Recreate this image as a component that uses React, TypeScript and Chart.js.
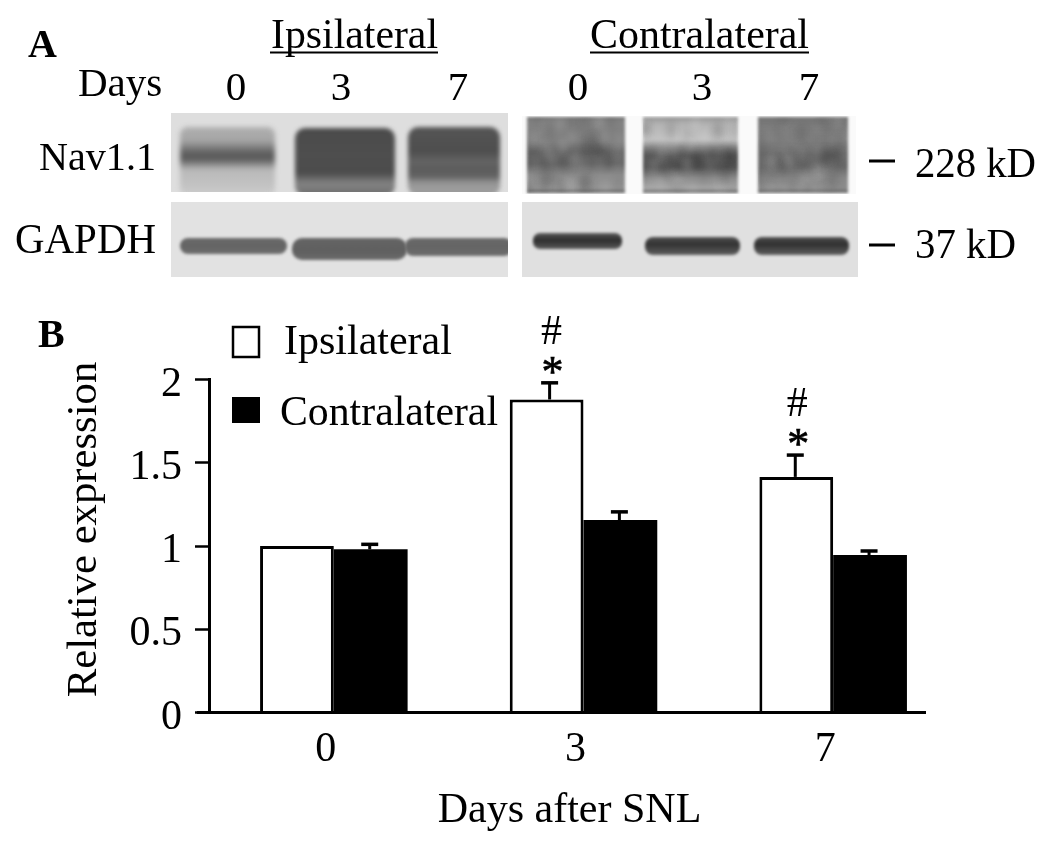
import React, { useEffect, useRef } from "react";
import { Chart, registerables } from "chart.js";

Chart.register(...registerables);

const days = ["0", "3", "7"];
const seriesNames = ["Ipsilateral", "Contralateral"];
const ipsilateral = [1.0, 1.88, 1.415];
const contralateral = [0.98, 1.156, 0.946];
const ipsilateralErrorTop = [1.0, 1.98, 1.546];
const contralateralErrorTop = [1.01, 1.205, 0.97];
const significanceMarks = [false, true, true];
const yTicks = [0, 0.5, 1, 1.5, 2];

const SERIF = '"Liberation Serif", "Times New Roman", serif';

type Lane = { x0: number; x1: number; y0: number; y1: number; blur: number; r: number; stops: [number, string][]; mottled?: boolean };

const g = (v: number) => `rgb(${v},${v},${v})`;
const st = (...p: number[]): [number, string][] => {
  const out: [number, string][] = [];
  for (let i = 0; i < p.length; i += 2) out.push([p[i], g(p[i + 1])]);
  return out;
};

const blotPanels: { x: number; y: number; w: number; h: number; bg: number; lanes: Lane[] }[] = [
  {
    x: 171, y: 113, w: 337, h: 79, bg: 222,
    lanes: [
      { x0: 180, x1: 275, y0: 127, y1: 196, blur: 2.5, r: 8, stops: st(0, 175, 0.2, 165, 0.3, 125, 0.38, 95, 0.46, 90, 0.56, 150, 0.62, 185, 0.85, 195, 1, 205) },
      { x0: 295, x1: 395, y0: 128, y1: 196, blur: 2, r: 10, stops: st(0, 75, 0.4, 78, 0.66, 76, 0.74, 105, 0.82, 130, 0.92, 120, 1, 100) },
      { x0: 408, x1: 500, y0: 127, y1: 196, blur: 2, r: 10, stops: st(0, 85, 0.35, 78, 0.5, 100, 0.62, 92, 0.72, 100, 0.8, 145, 0.92, 160, 1, 140) },
    ],
  },
  {
    x: 522, y: 116, w: 334, h: 78, bg: 250,
    lanes: [
      { x0: 527, x1: 625, y0: 117, y1: 193, blur: 1.5, r: 0, mottled: true, stops: st(0, 115, 0.06, 130, 0.32, 128, 0.46, 100, 0.62, 100, 0.76, 140, 0.94, 150, 1, 95) },
      { x0: 643, x1: 738, y0: 117, y1: 193, blur: 1.5, r: 0, mottled: true, stops: st(0, 150, 0.1, 180, 0.3, 195, 0.42, 120, 0.5, 88, 0.66, 85, 0.8, 140, 0.94, 165, 1, 95) },
      { x0: 758, x1: 848, y0: 117, y1: 193, blur: 1.5, r: 0, mottled: true, stops: st(0, 115, 0.3, 130, 0.48, 105, 0.66, 105, 0.8, 135, 0.94, 140, 1, 95) },
    ],
  },
  {
    x: 171, y: 202, w: 337, h: 75, bg: 226,
    lanes: [
      { x0: 180, x1: 287, y0: 238, y1: 254, blur: 1.6, r: 8, stops: st(0, 105, 0.5, 100, 1, 110) },
      { x0: 292, x1: 407, y0: 238, y1: 260, blur: 1.6, r: 10, stops: st(0, 100, 0.6, 95, 1, 108) },
      { x0: 405, x1: 512, y0: 238, y1: 256, blur: 1.6, r: 8, stops: st(0, 105, 0.5, 100, 1, 110) },
    ],
  },
  {
    x: 522, y: 202, w: 336, h: 75, bg: 224,
    lanes: [
      { x0: 533, x1: 622, y0: 233, y1: 249, blur: 1.8, r: 7, stops: st(0, 90, 0.45, 45, 1, 90) },
      { x0: 645, x1: 740, y0: 237, y1: 255, blur: 1.8, r: 8, stops: st(0, 80, 0.4, 50, 1, 95) },
      { x0: 754, x1: 849, y0: 237, y1: 255, blur: 1.8, r: 8, stops: st(0, 80, 0.4, 48, 1, 95) },
    ],
  },
];

function text(
  ctx: CanvasRenderingContext2D,
  s: string,
  x: number,
  y: number,
  size = 42,
  opts: { align?: CanvasTextAlign; maxWidth?: number; bold?: boolean; stroke?: number } = {}
) {
  ctx.font = `${opts.bold ? "bold " : ""}${size}px ${SERIF}`;
  ctx.fillStyle = "#000";
  ctx.textAlign = opts.align ?? "left";
  ctx.textBaseline = "alphabetic";
  if (opts.maxWidth) ctx.fillText(s, x, y, opts.maxWidth);
  else ctx.fillText(s, x, y);
  if (opts.stroke) {
    ctx.strokeStyle = "#000";
    ctx.lineWidth = opts.stroke;
    ctx.strokeText(s, x, y);
  }
}

function line(ctx: CanvasRenderingContext2D, x0: number, y0: number, x1: number, y1: number, w: number) {
  ctx.strokeStyle = "#000";
  ctx.lineWidth = w;
  ctx.beginPath();
  ctx.moveTo(x0, y0);
  ctx.lineTo(x1, y1);
  ctx.stroke();
}

function mottle(ctx: CanvasRenderingContext2D, l: Lane) {
  // Fixed film-grain pattern from a deterministic hash
  const hash = (n: number) => {
    const v = Math.sin(n * 127.1) * 43758.5453;
    return v - Math.floor(v);
  };
  ctx.filter = "blur(3.5px)";
  for (let i = 0; i < 70; i++) {
    const x = l.x0 + hash(i + l.x0) * (l.x1 - l.x0);
    const y = l.y0 + hash(i * 2.3 + l.x0) * (l.y1 - l.y0);
    const dark = hash(i * 3.7 + l.x0) > 0.5;
    ctx.fillStyle = dark ? "rgba(0,0,0,0.07)" : "rgba(255,255,255,0.08)";
    ctx.fillRect(x - 4, y - 7, 8, 14);
  }
  ctx.filter = "none";
}

const figurePlugin = {
  id: "figure",
  beforeDraw(chart: any) {
    const ctx: CanvasRenderingContext2D = chart.ctx;
    ctx.save();
    ctx.fillStyle = "#fff";
    ctx.fillRect(0, 0, chart.width, chart.height);
    for (const p of blotPanels) {
      ctx.save();
      ctx.beginPath();
      ctx.rect(p.x, p.y, p.w, p.h);
      ctx.clip();
      ctx.fillStyle = g(p.bg);
      ctx.fillRect(p.x, p.y, p.w, p.h);
      for (const l of p.lanes) {
        const gr = ctx.createLinearGradient(0, l.y0, 0, l.y1);
        l.stops.forEach(([o, c]) => gr.addColorStop(o, c));
        ctx.filter = `blur(${l.blur}px)`;
        ctx.fillStyle = gr;
        ctx.beginPath();
        ctx.roundRect(l.x0, l.y0, l.x1 - l.x0, l.y1 - l.y0, l.r);
        ctx.fill();
        ctx.filter = "none";
        if (l.mottled) {
          ctx.save();
          ctx.beginPath();
          ctx.rect(l.x0, l.y0, l.x1 - l.x0, l.y1 - l.y0);
          ctx.clip();
          mottle(ctx, l);
          ctx.restore();
        }
      }
      ctx.restore();
    }
    // Panel A text
    text(ctx, "A", 28, 57, 40, { bold: true });
    text(ctx, seriesNames[0], 271, 48, 42, { maxWidth: 167 });
    line(ctx, 270, 52.5, 438, 52.5, 2);
    text(ctx, seriesNames[1], 590, 48, 42, { maxWidth: 219 });
    line(ctx, 590, 52.5, 809, 52.5, 2);
    text(ctx, "Days", 78, 96, 41);
    [236, 341, 458, 578, 702, 809].forEach((x, i) => text(ctx, days[i % 3], x, 100, 41, { align: "center" }));
    text(ctx, "Nav1.1", 39, 170, 41, { maxWidth: 117 });
    text(ctx, "GAPDH", 15, 253, 42, { maxWidth: 141 });
    line(ctx, 869, 161, 895, 161, 3);
    line(ctx, 869, 245, 895, 245, 3);
    text(ctx, "228 kD", 915, 177, 42, { maxWidth: 121 });
    text(ctx, "37 kD", 915, 258, 42, { maxWidth: 101 });
    // Panel B labels
    text(ctx, "B", 38, 347, 40, { bold: true });
    ctx.restore();
  },
  afterDatasetsDraw(chart: any) {
    const ctx: CanvasRenderingContext2D = chart.ctx;
    const ys = chart.scales.y;
    ctx.save();
    // Axis line, which overshoots the plot on the left and stops short on the right
    line(ctx, 197, ys.getPixelForValue(0), 926, ys.getPixelForValue(0), 3);
    const whiteStemNudge = [0, 3, -1];
    const errs = [ipsilateralErrorTop, contralateralErrorTop];
    errs.forEach((tops, d) => {
      const values = d === 0 ? ipsilateral : contralateral;
      const meta = chart.getDatasetMeta(d);
      tops.forEach((top, i) => {
        if (top <= values[i]) return;
        const x = meta.data[i].x + (d === 0 ? whiteStemNudge[i] : -1);
        const yTop = ys.getPixelForValue(top);
        line(ctx, x, ys.getPixelForValue(values[i]), x, yTop, 3);
        line(ctx, x - 8.5, yTop, x + 8.5, yTop, 3.5);
      });
    });
    significanceMarks.forEach((on, i) => {
      if (!on) return;
      const bar = chart.getDatasetMeta(0).data[i];
      const stem = bar.x + whiteStemNudge[i];
      const yTop = ys.getPixelForValue(ipsilateralErrorTop[i]);
      text(ctx, "#", stem + 2, yTop - 39, 42, { align: "center" });
      text(ctx, "*", stem + 3, yTop + 3, 44, { align: "center", stroke: 0.7 });
    });
    // Legend
    ctx.fillStyle = "#fff";
    ctx.fillRect(233, 327, 26, 30);
    ctx.strokeStyle = "#000";
    ctx.lineWidth = 2.5;
    ctx.strokeRect(233, 327, 26, 30);
    ctx.fillStyle = "#000";
    ctx.fillRect(232, 397, 28, 26);
    text(ctx, seriesNames[0], 284, 354, 42, { maxWidth: 168 });
    text(ctx, seriesNames[1], 280, 425, 42, { maxWidth: 218 });
    // Axis titles
    text(ctx, "Days after SNL", 569.5, 822, 42, { align: "center", maxWidth: 264 });
    ctx.translate(96, 529.5);
    ctx.rotate(-Math.PI / 2);
    text(ctx, "Relative expression", 0, 0, 42.7, { align: "center" });
    ctx.restore();
  },
};

export default function App() {
  const ref = useRef<HTMLCanvasElement | null>(null);
  useEffect(() => {
    const chart = new Chart(ref.current!, {
      type: "bar",
      data: {
        labels: days,
        datasets: [
          {
            label: seriesNames[0],
            data: ipsilateral,
            backgroundColor: "#fff",
            borderColor: "#000",
            borderWidth: 3,
            borderSkipped: "bottom",
          },
          {
            label: seriesNames[1],
            data: contralateral,
            backgroundColor: "#000",
            borderWidth: 0,
          },
        ],
      },
      options: {
        responsive: false,
        animation: false,
        events: [],
        layout: { padding: { left: 0, right: 92, top: 379.5, bottom: 0 } },
        datasets: { bar: { categoryPercentage: 0.591, barPercentage: 1 } },
        plugins: { legend: { display: false }, tooltip: { enabled: false }, title: { display: false } },
        scales: {
          x: {
            grid: { display: false },
            border: { display: false },
            ticks: {
              color: "#000",
              font: { family: SERIF, size: 42 },
              labelOffset: -8,
              padding: 4,
              maxRotation: 0,
            },
            afterFit: (s: any) => {
              s.height = 134.5;
            },
          },
          y: {
            min: 0,
            max: 2,
            afterBuildTicks: (s: any) => {
              s.ticks = yTicks.map((value) => ({ value }));
            },
            grid: { drawOnChartArea: false, tickLength: 14, tickColor: "#000", tickWidth: 2.5 },
            border: { display: true, color: "#000", width: 3 },
            ticks: {
              color: "#000",
              font: { family: SERIF, size: 42 },
              padding: 13,
              labelOffset: 5,
              callback: (v: any) => String(v),
            },
            afterFit: (s: any) => {
              s.width = 209;
            },
          },
        },
      },
      plugins: [figurePlugin],
    } as any);
    return () => chart.destroy();
  }, []);
  return (
    <div style={{ position: "absolute", left: 0, top: 0, width: 1050, height: 847, background: "#fff" }}>
      <canvas ref={ref} width={1050} height={847} style={{ display: "block" }} />
    </div>
  );
}
